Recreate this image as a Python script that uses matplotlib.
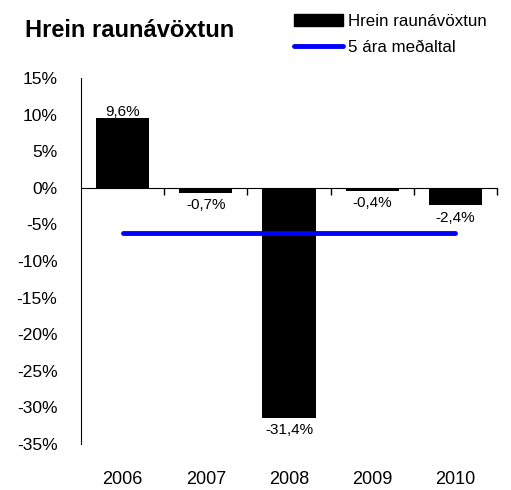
import matplotlib.pyplot as plt
from matplotlib.patches import Patch
from matplotlib.lines import Line2D

plt.rcParams['font.family'] = ['Liberation Sans', 'DejaVu Sans']

# Data
years = ['2006', '2007', '2008', '2009', '2010']
returns = [9.6, -0.7, -31.4, -0.4, -2.4]
avg_5yr = -6.2
yticks = [15, 10, 5, 0, -5, -10, -15, -20, -25, -30, -35]

fig = plt.figure(figsize=(5.11, 4.9), dpi=100)
ax = fig.add_axes([81 / 511, 1 - 444 / 490, (497 - 81) / 511, (444 - 78) / 490])

x = list(range(len(years)))
ax.bar(x, returns, width=0.64, color='black', zorder=2)
ax.plot([x[0], x[-1]], [avg_5yr, avg_5yr], color='#0000ff', linewidth=3.5,
        solid_capstyle='round', zorder=3)

ax.set_xlim(-0.5, 4.5)
ax.set_ylim(-35, 15)
ax.set_yticks(yticks)
ax.set_yticklabels([f'{t}%' for t in yticks], fontsize=12.5)
ax.tick_params(axis='y', length=0, pad=17)

# x axis crosses at zero, ticks between categories
ax.spines['bottom'].set_position(('data', 0))
ax.spines['top'].set_visible(False)
ax.spines['right'].set_visible(False)
ax.set_xticks([0.5, 1.5, 2.5, 3.5, 4.5])
ax.set_xticklabels([])
ax.tick_params(axis='x', direction='out', length=5, width=1)

# category labels at the bottom
for xi, yr in zip(x, years):
    ax.text(xi, -0.097, yr, transform=ax.get_xaxis_transform(),
            ha='center', va='center', fontsize=13)

# data labels
for xi, v in zip(x, returns):
    lbl = f'{v:.1f}%'.replace('.', ',')
    if v >= 0:
        ax.annotate(lbl, (xi, v), xytext=(0, -1), textcoords='offset points',
                    ha='center', va='bottom', fontsize=11)
    else:
        ax.annotate(lbl, (xi, v), xytext=(0, -4), textcoords='offset points',
                    ha='center', va='top', fontsize=11)

fig.text(25 / 511, 1 - 37 / 490, 'Hrein raunávöxtun', fontsize=17,
         fontweight='bold', ha='left', va='baseline')

handles = [Patch(facecolor='black', edgecolor='black'),
           Line2D([0], [0], color='#0000ff', linewidth=3.5, solid_capstyle='round')]
fig.legend(handles, ['Hrein raunávöxtun', '5 ára meðaltal'],
           loc='upper left', bbox_to_anchor=(294 / 511, 1 - 14 / 490),
           frameon=False, fontsize=12.2, borderpad=0, borderaxespad=0,
           handlelength=2.9, handletextpad=0.3, labelspacing=0.62)

fig.savefig('out.png', dpi=100)
